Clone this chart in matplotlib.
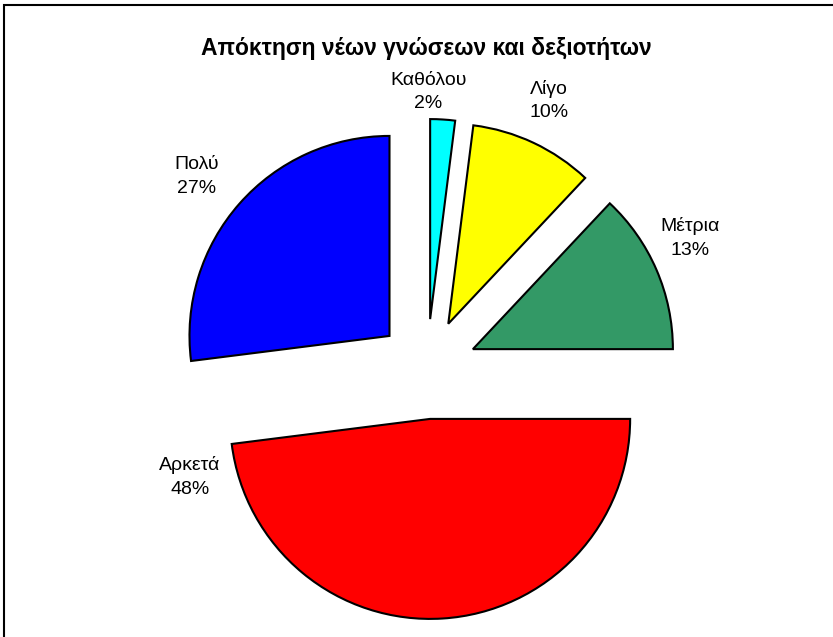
import matplotlib.pyplot as plt
from matplotlib.patches import Rectangle
import numpy as np

# Dados do grafico (percentagens por categoria)
categorias = ['Καθόλου', 'Λίγο', 'Μέτρια', 'Αρκετά', 'Πολύ']
valores = [2, 10, 13, 48, 27]
cores = ['#00FFFF', '#FFFF00', '#339966', '#FF0000', '#0000FF']
titulo = 'Απόκτηση νέων γνώσεων και δεξιοτήτων'

# Ajuste fino dos rotulos: desvio angular (graus) e distancia (em raios)
desvio_ang = [4.1, 1.0, 3.7, -80.0, 1.8]
dist_rot = [1.135, 1.225, 1.22, 1.235, 1.25]

plt.rcParams['font.family'] = ['Liberation Sans', 'DejaVu Sans']

W, H = 833, 637
fig = plt.figure(figsize=(W / 100, H / 100), dpi=100)
ax = fig.add_axes([0, 0, 1, 1])

# Pizza explodida, em unidades de pixel
raio = 200
centro = (427, H - 369)
rotulos = [f'{c}\n{v:.0f}%' for c, v in zip(categorias, valores)]
wedges, textos = ax.pie(valores, colors=cores, startangle=90, counterclock=False,
                        radius=raio, center=centro, explode=[50] * len(valores),
                        labels=rotulos, labeldistance=1.23,
                        wedgeprops=dict(edgecolor='black', linewidth=1.5),
                        textprops=dict(fontsize=14, ha='center', va='center',
                                       linespacing=1.5),
                        frame=True)
ax.axis('off')
ax.set_xlim(0, W)
ax.set_ylim(0, H)
ax.set_aspect('equal')

# Reposiciona cada rotulo em relacao ao centro da sua fatia
for w, t, d_ang, dist in zip(wedges, textos, desvio_ang, dist_rot):
    cx, cy = w.center
    a = np.radians((w.theta1 + w.theta2) / 2 + d_ang)
    t.set_position((cx + dist * raio * np.cos(a), cy + dist * raio * np.sin(a)))

ax.text(W / 2 + 10, H - 48, titulo, fontsize=16.5, fontweight='bold',
        ha='center', va='center')

# Moldura do grafico
ax.add_patch(Rectangle((4, -20), W + 20, H - 5 + 20, fill=False,
                       edgecolor='black', linewidth=1.5, clip_on=False))

fig.savefig('out.png', dpi=100)
